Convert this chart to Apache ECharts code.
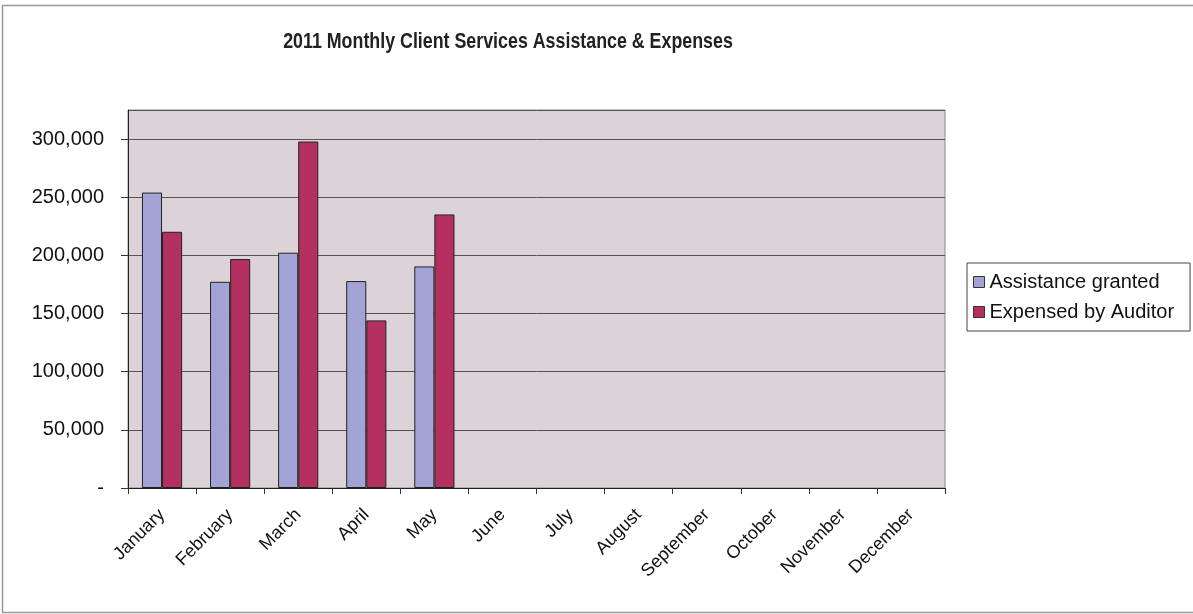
<!DOCTYPE html>
<html>
<head>
<meta charset="utf-8">
<script src="https://cdn.jsdelivr.net/npm/echarts@6/dist/echarts.min.js"></script>
<style>html,body{margin:0;padding:0;background:#fff;}#c{width:1193px;height:614px;}</style>
</head>
<body>
<div id="c"></div>
<script>
const titleText = '2011 Monthly Client Services Assistance & Expenses';
const months = ['January','February','March','April','May','June','July','August','September','October','November','December'];
const assistanceGranted = [254000, 177300, 202300, 177900, 190500, null, null, null, null, null, null, null];
const expensedByAuditor = [220300, 196800, 297900, 144100, 235200, null, null, null, null, null, null, null];
const yTickValues = [0, 50000, 100000, 150000, 200000, 250000, 300000];

const chart = echarts.init(document.getElementById('c'));
const fontFam = 'Liberation Sans, Arial, sans-serif';
chart.setOption({
  animation: false,
  backgroundColor: '#ffffff',
  graphic: [{
    type: 'rect', shape: {x: 2.5, y: 5.5, width: 1200, height: 607},
    style: {fill: 'none', stroke: '#999', lineWidth: 1.5}, silent: true, z: -1
  }, {
    type: 'text', x: 508, y: 42, scaleX: 0.81, scaleY: 1,
    style: {text: titleText, fontFamily: fontFam, fontSize: 22, fontWeight: 'bold', fill: '#222',
            textAlign: 'center', textVerticalAlign: 'middle', align: 'center', verticalAlign: 'middle'},
    silent: true
  }],
  legend: {
    orient: 'vertical', left: 967, top: 263,
    itemWidth: 11, itemHeight: 11, itemGap: 10, icon: 'rect',
    padding: [9, 16, 9, 6],
    borderColor: '#444', borderWidth: 1,
    textStyle: {fontFamily: fontFam, fontSize: 20, color: '#111'},
    data: [
      {name: 'Assistance granted', itemStyle: {borderColor: '#333', borderWidth: 1}},
      {name: 'Expensed by Auditor', itemStyle: {borderColor: '#333', borderWidth: 1}}
    ]
  },
  grid: {left: 128, top: 110, right: 248, bottom: 126, show: true, backgroundColor: '#dbd3d7', borderColor: '#888', borderWidth: 1},
  xAxis: {
    type: 'category', data: months,
    axisLine: {lineStyle: {color: '#222', width: 1}},
    axisTick: {show: true, alignWithLabel: false, length: 6, lineStyle: {color: '#333'}},
    axisLabel: {rotate: 45, fontFamily: fontFam, fontSize: 18, color: '#111', margin: 24, interval: 0}
  },
  yAxis: {
    type: 'value', min: 0, max: 325000, interval: 50000,
    axisLine: {show: true, lineStyle: {color: '#222'}},
    axisTick: {show: true, length: 7, lineStyle: {color: '#333'}},
    splitLine: {lineStyle: {color: '#555', width: 1}},
    axisLabel: {
      fontFamily: fontFam, fontSize: 20, color: '#111', margin: 24,
      showMaxLabel: false,
      formatter: v => yTickValues.indexOf(v) < 0 ? '' : (v === 0 ? '-' : v.toLocaleString('en-US'))
    }
  },
  series: [
    {name: 'Assistance granted', type: 'bar', data: assistanceGranted, barGap: '0%', barCategoryGap: '41%',
     itemStyle: {color: '#a3a3d6', borderColor: '#222', borderWidth: 1}},
    {name: 'Expensed by Auditor', type: 'bar', data: expensedByAuditor,
     itemStyle: {color: '#b4305e', borderColor: '#222', borderWidth: 1}}
  ]
});
</script>
</body>
</html>
